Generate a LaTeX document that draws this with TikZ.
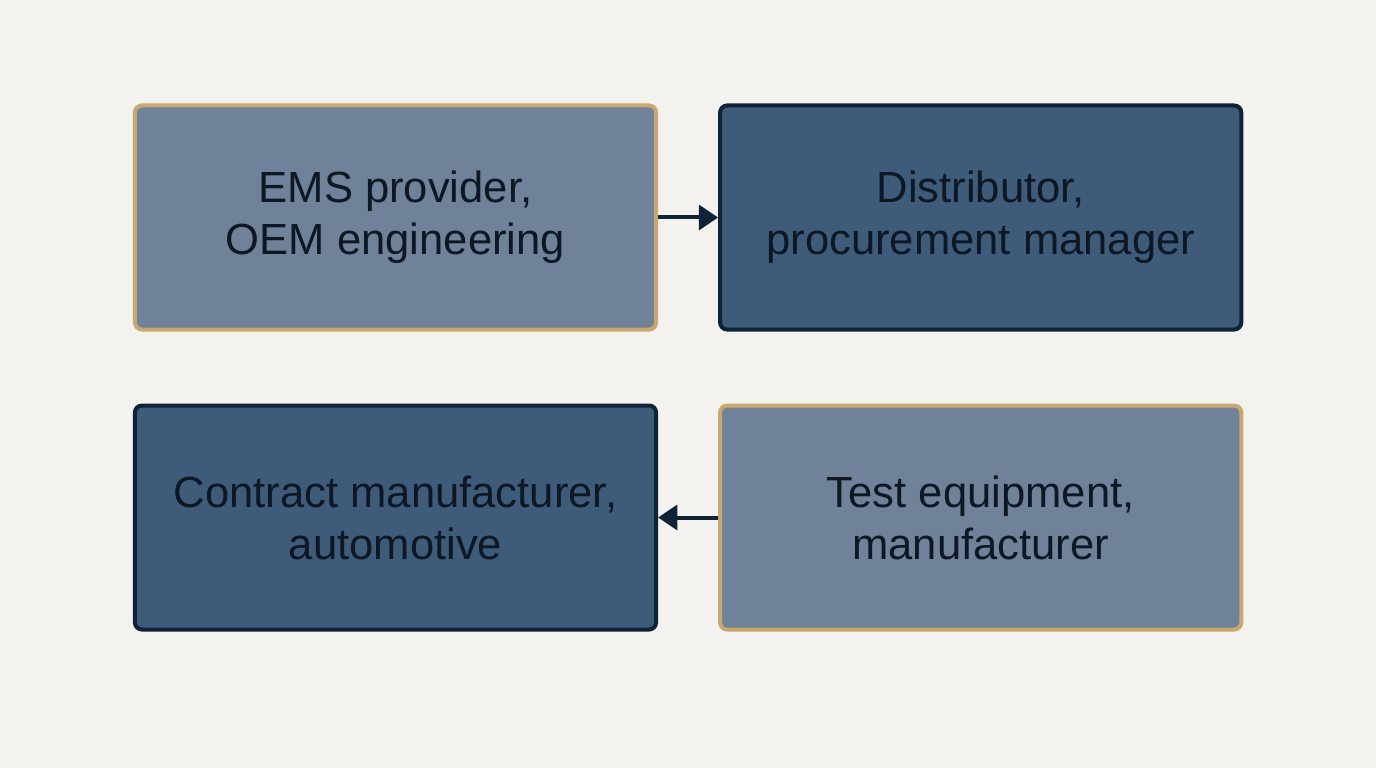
\documentclass[tikz,border=0pt]{standalone}
\usepackage{fontspec}
\setmainfont{Liberation Sans}
\usetikzlibrary{positioning,arrows.meta}

\definecolor{bgpaper}{HTML}{F3F2EE}
\definecolor{lightfill}{HTML}{6F8299}
\definecolor{darkfill}{HTML}{3F5B7A}
\definecolor{goldline}{HTML}{C9A76E}
\definecolor{navyline}{HTML}{0F2236}
\definecolor{inktext}{HTML}{0E1724}

\tikzset{
    rolebox/.style={rectangle, rounded corners=5pt, line width=0.1cm,
        minimum width=13.03cm, minimum height=5.6cm, align=center,
        text=inktext, font=\fontsize{31}{37}\selectfont},
    lightbox/.style={rolebox, fill=lightfill, draw=goldline},
    darkbox/.style={rolebox, fill=darkfill, draw=navyline},
    flow/.style={line width=0.1cm, draw=navyline,
        -{Triangle[length=0.48cm,width=0.62cm]}}
}

\begin{document}
\begin{tikzpicture}
    % Background and margins
    \fill [bgpaper] (0,0) rectangle (34.4,-19.2);
    \useasboundingbox (0,0) rectangle (34.4,-19.2);

    % Draw the four boxes
    \node [lightbox] (ems) at (9.8875,-5.4375) {EMS provider,\\OEM engineering};
    \node [darkbox, right=1.5cm of ems] (dist) {Distributor,\\procurement manager};
    \node [darkbox, below=1.8cm of ems] (contract) {Contract manufacturer,\\automotive};
    \node [lightbox, right=1.5cm of contract] (test) {Test equipment,\\manufacturer};

    % Draw the arrows
    \draw [flow] (ems) -- (dist);
    \draw [flow] (test) -- (contract);
\end{tikzpicture}
\end{document}
